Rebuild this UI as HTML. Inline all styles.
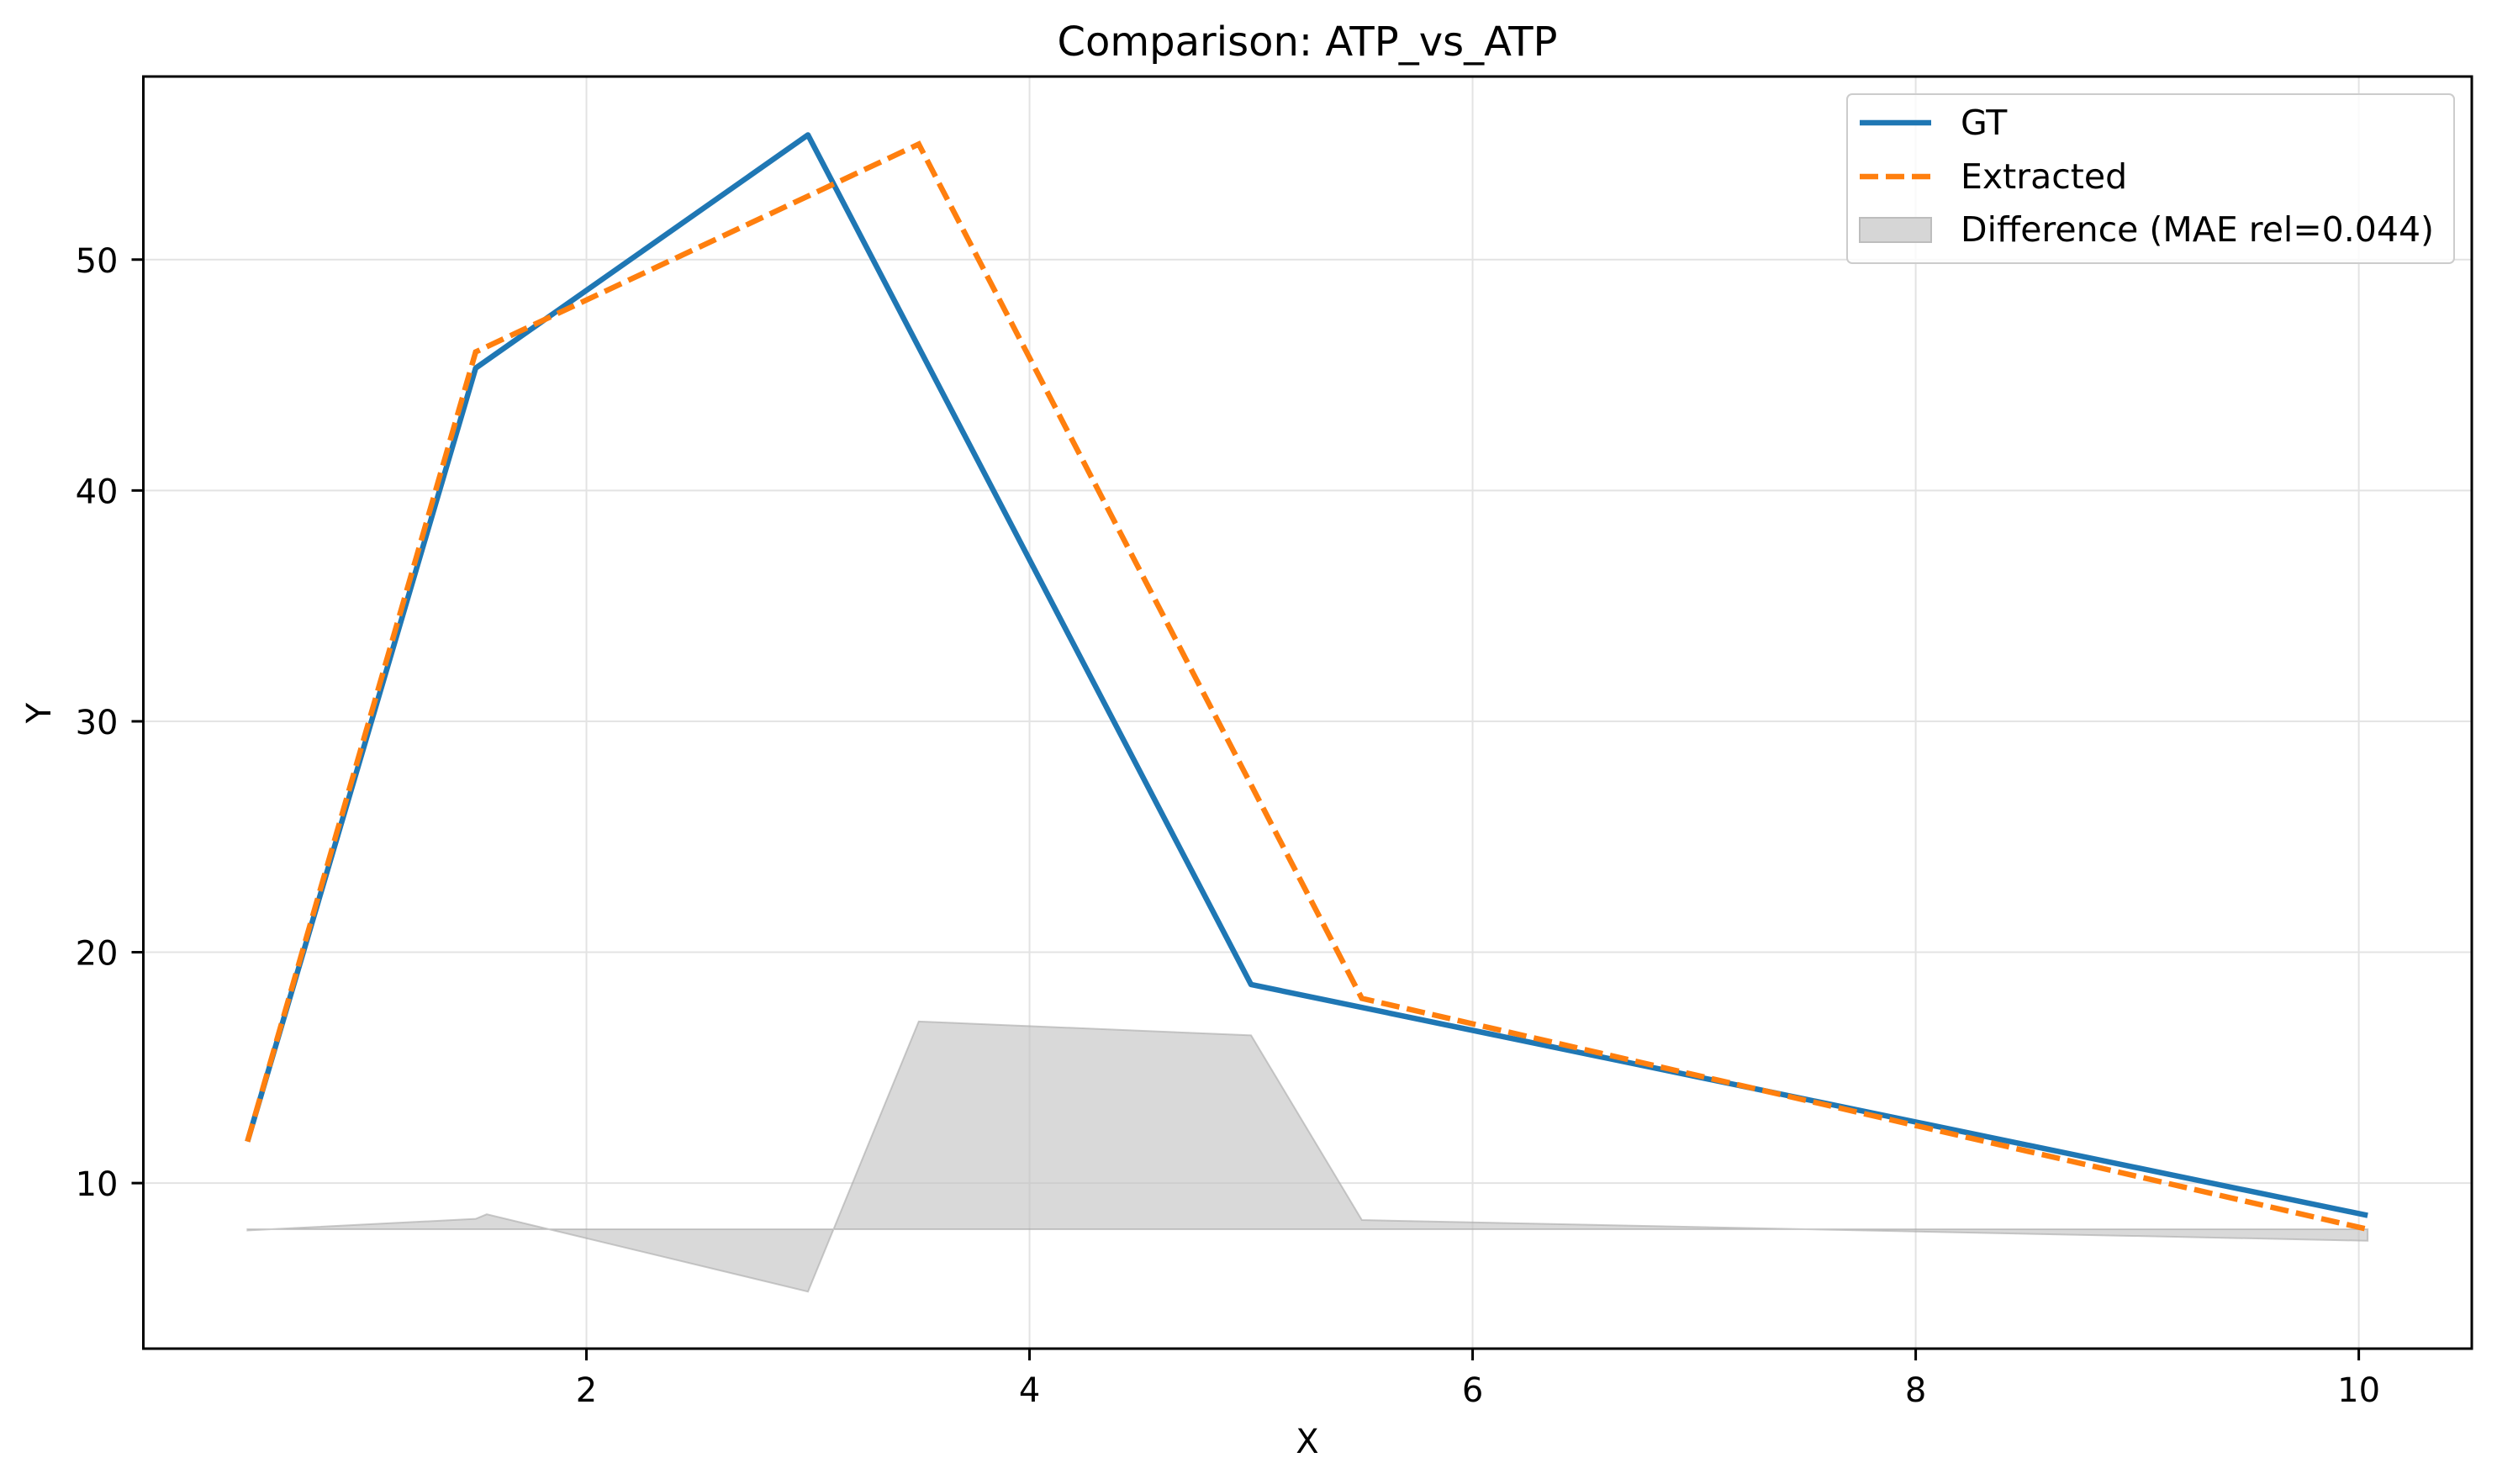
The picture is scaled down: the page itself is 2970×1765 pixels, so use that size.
<!DOCTYPE html>
<html><head><meta charset="utf-8"><style>
html,body{margin:0;padding:0;background:#fff;}
svg{display:block;font-family:"DejaVu Sans","Liberation Sans",sans-serif;}
</style></head><body>
<svg id="chart" width="2970" height="1765" viewBox="0 0 2970 1765" xmlns="http://www.w3.org/2000/svg">
<rect width="2970" height="1765" fill="#fff"/>
<text x="1555" y="66" font-size="48" text-anchor="middle">Comparison: ATP_vs_ATP</text>
<g id="grid"></g>
<g id="fill"></g>
<g id="lines"></g>
<rect x="170.5" y="91" width="2769.5" height="1513" fill="none" stroke="#000" stroke-width="3"/>
<g id="ticks"></g>
<text x="1555" y="1728" font-size="40" text-anchor="middle">X</text>
<text x="60" y="848" font-size="40" text-anchor="middle" transform="rotate(-90 60 848)">Y</text>
<g>
<rect x="2197" y="112" width="722" height="201" rx="6" fill="#fff" fill-opacity="0.8" stroke="#ccc" stroke-width="2"/>
<line x1="2212" y1="146" x2="2297" y2="146" stroke="#1f77b4" stroke-width="6.5"/>
<text x="2332" y="160" font-size="41">GT</text>
<line x1="2212" y1="210" x2="2297" y2="210" stroke="#ff7f0e" stroke-width="6.5" stroke-dasharray="22,9"/>
<text x="2332" y="224" font-size="41">Extracted</text>
<rect x="2212" y="259" width="85" height="29" fill="#d6d6d6" stroke="#bdbdbd" stroke-width="2"/>
<text x="2332" y="287" font-size="41">Difference (MAE rel=0.044)</text>
</g>
</svg>
<script>
const gtX = [0.47, 1.5, 3.0, 5.0, 10.04];
const gtY = [11.8, 45.3, 55.4, 18.6, 8.6];
const exX = [0.47, 1.5, 3.5, 5.5, 10.04];
const exY = [11.8, 46.0, 55.0, 18.0, 8.0];
const diffX = [0.47, 1.5, 1.55, 3.0, 3.5, 5.0, 5.5, 10.04];
const diffY = [7.95, 8.45, 8.65, 5.3, 17.0, 16.4, 8.4, 7.5];
const diffBase = 8.0;
const xTicks = [2, 4, 6, 8, 10];
const yTicks = [10, 20, 30, 40, 50];

const L=170.5,R=2940,T=91,B=1604;
const xMin=0.0,xMax=10.51,yMin=2.83,yMax=57.93;
const sx=v=>L+(v-xMin)/(xMax-xMin)*(R-L);
const sy=v=>B-(v-yMin)/(yMax-yMin)*(B-T);
const NS="http://www.w3.org/2000/svg";
function mk(tag,attrs,parent){const e=document.createElementNS(NS,tag);for(const k in attrs)e.setAttribute(k,attrs[k]);parent.appendChild(e);return e;}
const grid=document.getElementById('grid'),ticks=document.getElementById('ticks');
xTicks.forEach(t=>{
  const g=mk('line',{x1:sx(t),x2:sx(t),y1:T,y2:B,stroke:'#e3e3e3','stroke-width':2},grid);
  
  
  const tk=mk('line',{x1:sx(t),x2:sx(t),y1:B,y2:B+14,stroke:'#000','stroke-width':3},ticks);
  
  
  const tx=mk('text',{x:sx(t),y:1667,'font-size':40,'text-anchor':'middle'},ticks);
  tx.textContent=t;
  
  
});
yTicks.forEach(t=>{
  const g=mk('line',{x1:L,x2:R,y1:sy(t),y2:sy(t),stroke:'#e3e3e3','stroke-width':2},grid);
  
  
  const tk=mk('line',{x1:L-14,x2:L,y1:sy(t),y2:sy(t),stroke:'#000','stroke-width':3},ticks);
  
  
  const tx=mk('text',{x:L-30,y:sy(t)+15,'font-size':40,'text-anchor':'end'},ticks);
  tx.textContent=t;
  
  
});
let d='M'+sx(diffX[0])+','+sy(diffBase);
diffX.forEach((x,i)=>{d+=' L'+sx(x)+','+sy(diffY[i]);});
d+=' L'+sx(diffX[diffX.length-1])+','+sy(diffBase)+' Z';
const f=mk('path',{d:d,fill:'#bfbfbf','fill-opacity':0.6,stroke:'#a8a8a8','stroke-opacity':0.6,'stroke-width':2},document.getElementById('fill'));


const lines=document.getElementById('lines');
const gp=mk('polyline',{points:gtX.map((x,i)=>sx(x)+','+sy(gtY[i])).join(' '),fill:'none',stroke:'#1f77b4','stroke-width':6.5,'stroke-linejoin':'round'},lines);


const ep=mk('polyline',{points:exX.map((x,i)=>sx(x)+','+sy(exY[i])).join(' '),fill:'none',stroke:'#ff7f0e','stroke-width':6.5,'stroke-dasharray':'22,9'},lines);


</script>
</body></html>
